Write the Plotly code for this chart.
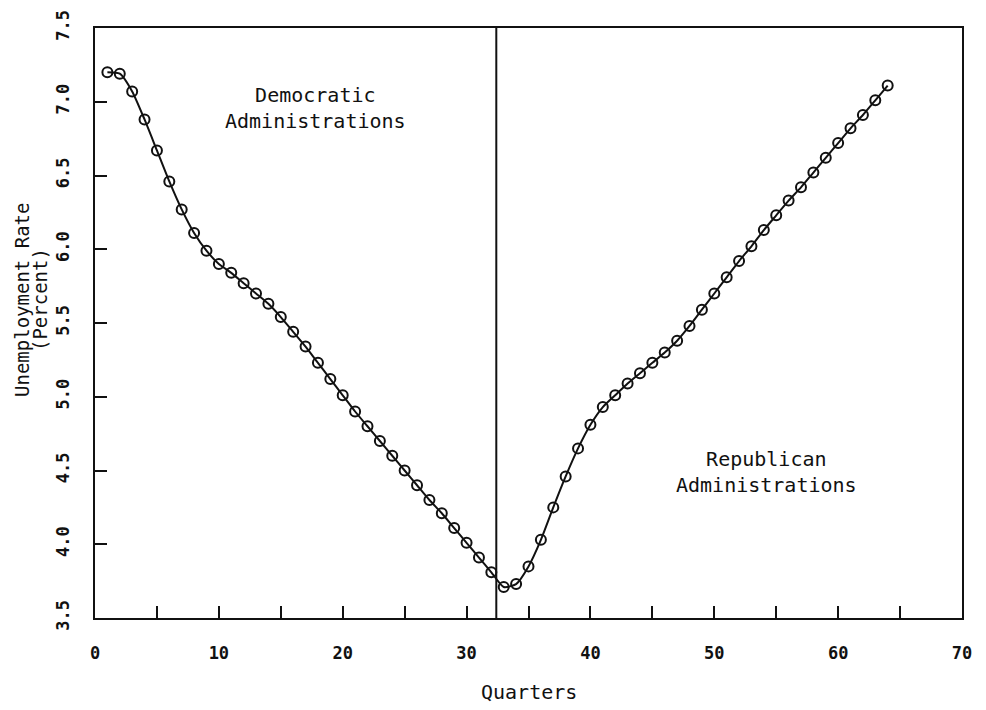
import plotly.graph_objects as go

quarters = list(range(1, 65))
unemployment = [
    7.20, 7.19, 7.07, 6.88, 6.67, 6.46, 6.27, 6.11, 5.99, 5.90,
    5.84, 5.77, 5.70, 5.63, 5.54, 5.44, 5.34, 5.23, 5.12, 5.01,
    4.90, 4.80, 4.70, 4.60, 4.50, 4.40, 4.30, 4.21, 4.11, 4.01,
    3.91, 3.81, 3.71, 3.73, 3.85, 4.03, 4.25, 4.46, 4.65, 4.81,
    4.93, 5.01, 5.09, 5.16, 5.23, 5.30, 5.38, 5.48, 5.59, 5.70,
    5.81, 5.92, 6.02, 6.13, 6.23, 6.33, 6.42, 6.52, 6.62, 6.72,
    6.82, 6.91, 7.01, 7.11,
]
divider_quarter = 32.4
x_tick_vals = [0, 10, 20, 30, 40, 50, 60, 70]
y_tick_vals = [3.5, 4.0, 4.5, 5.0, 5.5, 6.0, 6.5, 7.0, 7.5]

FONT = "DejaVu Sans Mono"
BLACK = "#111111"

fig = go.Figure()
fig.add_trace(go.Scatter(
    x=quarters, y=unemployment,
    mode="lines+markers",
    line=dict(color=BLACK, width=2, shape="spline", smoothing=0.6),
    marker=dict(symbol="circle-open", size=10, color=BLACK, line=dict(width=2, color=BLACK)),
    showlegend=False,
))

fig.add_shape(type="line", xref="x", yref="paper", x0=divider_quarter, x1=divider_quarter,
              y0=0, y1=1, line=dict(color=BLACK, width=2))

fig.add_annotation(x=17.8, y=6.96, xref="x", yref="y",
                   text="Democratic<br>Administrations", showarrow=False,
                   xanchor="center", yanchor="middle",
                   font=dict(family=FONT, size=20, color=BLACK))
fig.add_annotation(x=54.2, y=4.49, xref="x", yref="y",
                   text="Republican<br>Administrations", showarrow=False,
                   xanchor="center", yanchor="middle",
                   font=dict(family=FONT, size=20, color=BLACK))

fig.add_annotation(x=-0.0842, y=0.539, xref="paper", yref="paper",
                   text="Unemployment Rate", showarrow=False, textangle=-90,
                   xanchor="center", yanchor="middle",
                   font=dict(family=FONT, size=19, color=BLACK))
fig.add_annotation(x=-0.0634, y=0.539, xref="paper", yref="paper",
                   text="(Percent)", showarrow=False, textangle=-90,
                   xanchor="center", yanchor="middle",
                   font=dict(family=FONT, size=19, color=BLACK))
fig.add_annotation(x=0.5, y=-0.125, xref="paper", yref="paper",
                   text="Quarters", showarrow=False,
                   xanchor="center", yanchor="middle",
                   font=dict(family=FONT, size=20, color=BLACK))

fig.update_xaxes(
    range=[0, 70], tickvals=x_tick_vals, ticks="inside", ticklen=12, tickwidth=2,
    tickcolor=BLACK, showline=True, linecolor=BLACK, linewidth=2, mirror=True,
    showgrid=False, zeroline=False, ticklabelstandoff=19, automargin=False,
    tickfont=dict(family=FONT, size=17, color=BLACK, weight="bold"),
    minor=dict(dtick=5, tick0=0, ticks="inside", ticklen=12, tickwidth=2, tickcolor=BLACK, showgrid=False),
)
fig.update_yaxes(
    range=[3.5, 7.5], tickvals=y_tick_vals, tickformat=".1f", ticks="inside", ticklen=12,
    tickwidth=2, tickcolor=BLACK, showline=True, linecolor=BLACK, linewidth=2, mirror=True,
    showgrid=False, zeroline=False, tickangle=-90, ticklabelstandoff=17, automargin=False,
    tickfont=dict(family=FONT, size=17, color=BLACK, weight="bold"),
)

fig.update_layout(
    width=978, height=702,
    margin=dict(l=87, r=24, t=20, b=92),
    paper_bgcolor="white", plot_bgcolor="white",
)

fig.write_html("out.html")
